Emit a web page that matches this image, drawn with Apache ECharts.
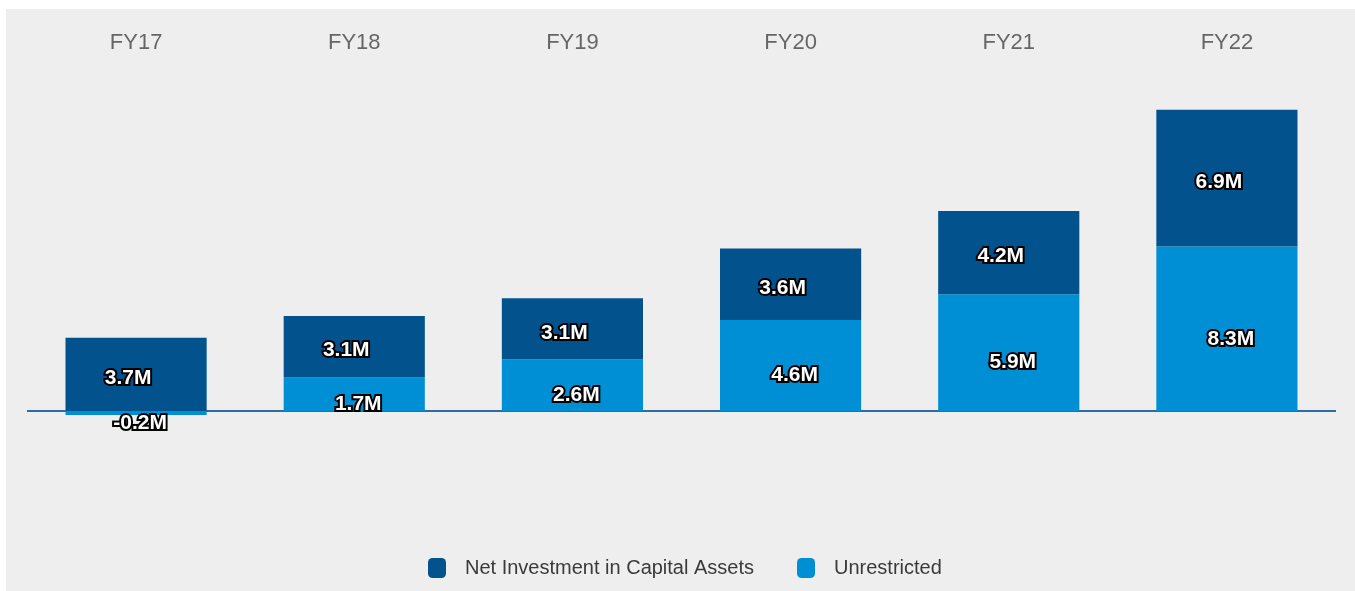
<!DOCTYPE html>
<html>
<head>
<meta charset="utf-8">
<title>Net Position</title>
<script src="https://cdn.jsdelivr.net/npm/echarts@6/dist/echarts.min.js"></script>
<style>
    html, body { margin: 0; padding: 0; background: #ffffff; }
    #bg { position: absolute; left: 6px; top: 9px; width: 1349px; height: 582px; background: #eeeeee; }
    #draw-main { position: absolute; left: 0; top: 0; width: 1355px; height: 591px; }
</style>
</head>
<body>
<div id="bg"></div>
<div id="draw-main"></div>
<script>
let categories = ['FY17', 'FY18', 'FY19', 'FY20', 'FY21', 'FY22'];
let unrestricted = [-0.2, 1.7, 2.6, 4.6, 5.9, 8.3];
let netInvestment = [3.7, 3.1, 3.1, 3.6, 4.2, 6.9];

let font = '"Liberation Sans", Arial, sans-serif';

// value labels: white bold text with a dark outline
function barLabel(offset) {
    return {
        show: true,
        position: 'inside',
        offset: offset,
        formatter: function (p) { return p.value.toFixed(1) + 'M'; },
        color: '#ffffff',
        fontFamily: font,
        fontWeight: 'bold',
        fontSize: 21,
        textBorderColor: '#000000',
        textBorderWidth: 4
    };
}

let myChart = echarts.init(document.getElementById('draw-main'));

let option = {
    animation: false,
    grid: { left: 27, right: 19, top: 94, bottom: 61 },
    legend: {
        data: ['Net Investment in Capital Assets', 'Unrestricted'],
        left: 428,
        top: 558,
        padding: 0,
        icon: 'roundRect',
        itemWidth: 18,
        itemHeight: 20,
        itemGap: 43,
        textStyle: {
            fontFamily: font,
            fontSize: 20,
            color: '#3a3a3a',
            padding: [0, 0, 0, 14]
        }
    },
    xAxis: {
        type: 'category',
        data: categories,
        position: 'top',
        axisLine: { show: false },
        axisTick: { show: false },
        axisLabel: { margin: 40, color: '#666666', fontFamily: font, fontSize: 22 }
    },
    yAxis: {
        type: 'value',
        min: -6,
        max: 16,
        show: false,
        splitLine: { show: false }
    },
    series: [{
        name: 'Unrestricted',
        type: 'bar',
        stack: 'total',
        barWidth: '64.7%',
        itemStyle: { color: '#008fd4' },
        label: barLabel([4, 10]),
        data: unrestricted,
        // zero baseline
        markLine: {
            silent: true,
            symbol: 'none',
            z: 1,
            label: { show: false },
            lineStyle: { color: '#2e6ca4', width: 2, type: 'solid' },
            data: [{ yAxis: 0 }]
        }
    }, {
        name: 'Net Investment in Capital Assets',
        type: 'bar',
        stack: 'total',
        barWidth: '64.7%',
        itemStyle: { color: '#02538d' },
        label: barLabel([-8, 4]),
        data: netInvestment
    }]
};

myChart.setOption(option, true);
</script>
</body>
</html>
